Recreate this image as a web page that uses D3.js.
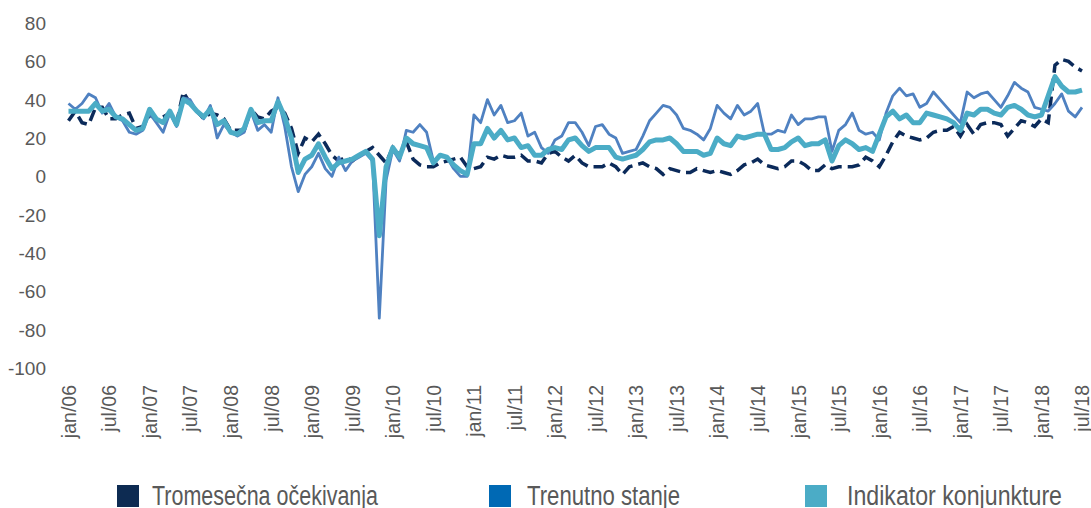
<!DOCTYPE html>
<html>
<head>
<meta charset="utf-8">
<title>Indikator konjunkture</title>
<script src="https://d3js.org/d3.v7.min.js"></script>
<style>
  body { margin: 0; background: #fff; }
  svg text { font-family: "Liberation Sans", Arial, sans-serif; fill: #595959; }
</style>
</head>
<body>
<div id="chart"></div>
<script>
// tick labels, one every 6 months (jan/06 .. jul/18, monthly data = 151 points)
const tickLabels = ["jan/06","jul/06","jan/07","jul/07","jan/08","jul/08","jan/09","jul/09",
  "jan/10","jul/10","jan/11","jul/11","jan/12","jul/12","jan/13","jul/13","jan/14","jul/14",
  "jan/15","jul/15","jan/16","jul/16","jan/17","jul/17","jan/18","jul/18"];

const seriesNames = ["Tromesečna očekivanja", "Trenutno stanje", "Indikator konjunkture"];

// Tromesečna očekivanja (dashed)
const ocekivanja = [
  29,34,28,27,36,36,30,30,32,33,25,26,
  32,30,31,33,28,44,38,34,30,33,32,30,
  24,24,24,35,31,30,34,36,33,25,12,20,
  18,22,17,11,8,10,8,11,13,15,11,7,
  15,11,18,9,6,5,5,7,8,9,10,5,
  4,5,10,9,11,10,10,11,8,8,7,12,
  13,10,8,11,7,5,5,5,7,5,1,5,
  6,7,5,4,1,4,3,2,2,4,3,2,
  3,2,1,3,6,7,9,6,5,4,5,8,
  8,6,3,3,6,4,5,5,5,6,10,8,
  5,11,18,23,21,20,19,20,23,24,24,26,
  21,27,22,27,28,28,27,21,25,29,28,26,
  30,28,58,61,60,57,55
];

// Trenutno stanje
const stanje = [
  38,35,38,43,41,33,38,31,29,23,22,24,
  33,28,23,33,26,41,40,34,30,37,20,27,
  23,21,23,34,24,27,23,41,26,5,-8,1,
  5,12,4,0,10,3,8,10,12,8,-74,-2,
  14,8,24,23,27,23,8,11,10,4,0,0,
  32,28,40,32,37,28,29,33,21,23,15,12,
  19,21,28,28,23,16,26,27,22,20,12,13,
  14,21,29,33,37,36,32,25,24,22,19,25,
  37,33,30,37,32,34,38,22,22,24,23,32,
  27,30,30,31,31,13,24,27,33,24,22,23,
  19,33,42,46,42,43,36,38,44,40,36,32,
  28,44,41,43,44,40,36,42,49,46,44,36,
  35,34,38,43,34,31,36
];

// Indikator konjunkture
const indikator = [
  34,34,34,34,38,34,35,31,30,27,24,25,
  35,30,28,34,27,40,38,34,31,35,27,29,
  23,22,25,35,28,29,29,39,31,20,2,9,
  11,17,10,4,7,8,9,11,13,9,-31,5,
  15,10,20,17,16,15,7,11,10,6,3,1,
  17,17,25,20,24,19,20,15,16,11,11,14,
  15,14,19,20,16,13,15,15,15,10,9,10,
  11,14,18,19,19,20,17,13,13,13,11,12,
  20,17,16,21,20,21,22,22,14,14,15,18,
  20,16,17,17,19,8,16,19,17,14,15,13,
  22,31,34,30,32,28,28,33,32,31,30,28,
  24,33,32,35,35,33,32,36,37,35,32,31,
  32,42,52,47,44,44,45
];

const yTicks = [80, 60, 40, 20, 0, -20, -40, -60, -80, -100];
const colors = ["#0b2a5a", "#4f81c1", "#4bacc6"];
const legendColors = ["#0d2b52", "#0069b4", "#4bacc6"];

const width = 1091, height = 508;

const svg = d3.select("#chart").append("svg")
  .attr("width", width)
  .attr("height", height);

const x = d3.scaleLinear().domain([0, indikator.length - 1]).range([68.5, 1082]);
const y = d3.scaleLinear().domain([-100, 80]).range([368, 23]);

// y axis labels (no axis line), plain hyphen for negatives
const yAxis = svg.append("g")
  .attr("transform", "translate(46,0)")
  .call(d3.axisLeft(y).tickValues(yTicks).tickSize(0).tickPadding(0)
    .tickFormat(d => String(d)));
yAxis.select(".domain").remove();
yAxis.selectAll("text")
  .style("font-size", "19px")
  .attr("dy", "0.35em");

// x axis labels, rotated
const xAxis = svg.append("g")
  .attr("transform", "translate(0,385)")
  .call(d3.axisBottom(x)
    .tickValues(tickLabels.map((d, i) => i * 6))
    .tickFormat((d, i) => tickLabels[i])
    .tickSize(0));
xAxis.select(".domain").remove();
xAxis.selectAll("text")
  .style("font-size", "19.5px")
  .attr("text-anchor", "end")
  .attr("transform", "rotate(-90)")
  .attr("x", 0)
  .attr("y", 0)
  .attr("dx", 0)
  .attr("dy", "0.35em");

const line = d3.line()
  .x((d, i) => x(i))
  .y(d => y(d));

// series lines (drawn in legend order)
svg.append("path")
  .datum(ocekivanja)
  .attr("fill", "none")
  .attr("stroke", colors[0])
  .attr("stroke-width", 3.5)
  .attr("stroke-dasharray", "12,6")
  .attr("d", line);

svg.append("path")
  .datum(stanje)
  .attr("fill", "none")
  .attr("stroke", colors[1])
  .attr("stroke-width", 2.8)
  .attr("stroke-linejoin", "round")
  .attr("d", line);

svg.append("path")
  .datum(indikator)
  .attr("fill", "none")
  .attr("stroke", colors[2])
  .attr("stroke-width", 5)
  .attr("stroke-linejoin", "round")
  .attr("d", line);

// legend (condensed text squeezed to the reference widths)
const legendX = [117, 489, 805];
const legendTextX = [152, 527, 847];
const legendTextW = [226, 153, 215];
const legend = svg.append("g");
seriesNames.forEach((name, i) => {
  legend.append("rect")
    .attr("x", legendX[i])
    .attr("y", 485)
    .attr("width", 22)
    .attr("height", 22)
    .attr("fill", legendColors[i]);
  legend.append("text")
    .attr("x", legendTextX[i])
    .attr("y", 505)
    .attr("textLength", legendTextW[i])
    .attr("lengthAdjust", "spacingAndGlyphs")
    .style("font-size", "27px")
    .text(name);
});
</script>
</body>
</html>
